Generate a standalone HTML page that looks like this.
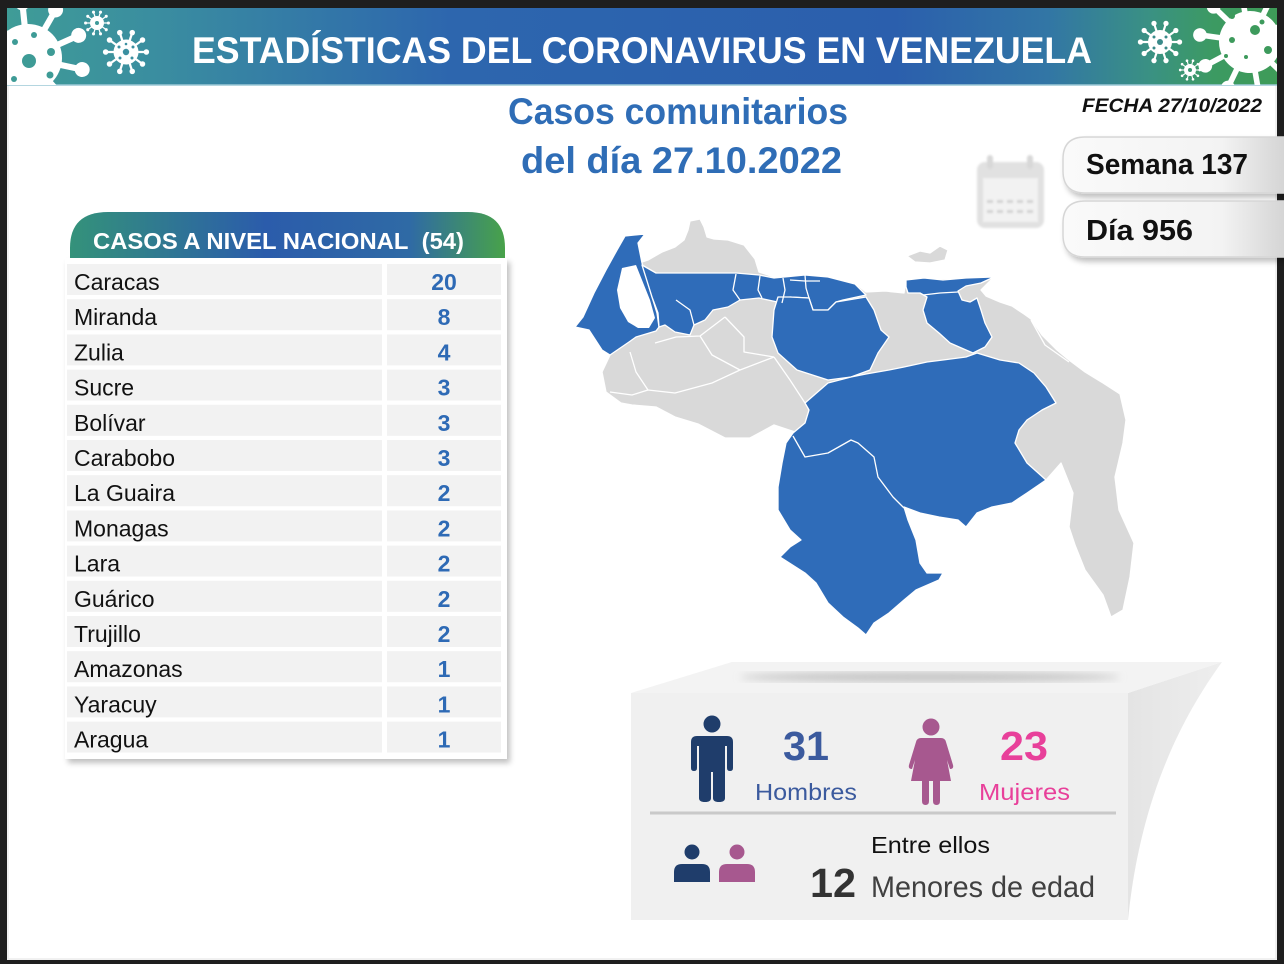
<!DOCTYPE html>
<html><head><meta charset="utf-8"><style>
html,body{margin:0;padding:0;background:#1e1e1e;}
svg{display:block;}
text{font-family:"Liberation Sans",sans-serif;}
</style></head><body>
<svg width="1284" height="964" viewBox="0 0 1284 964" xmlns="http://www.w3.org/2000/svg">
<defs>
<linearGradient id="ban" x1="0" y1="0" x2="1" y2="0">
<stop offset="0" stop-color="#3f9c97"/><stop offset="0.12" stop-color="#3a8da0"/><stop offset="0.35" stop-color="#2d66ae"/><stop offset="0.7" stop-color="#2b5fad"/><stop offset="0.82" stop-color="#3276a5"/><stop offset="0.9" stop-color="#3a9183"/><stop offset="0.95" stop-color="#3c9a62"/><stop offset="1" stop-color="#3e9b58"/>
</linearGradient>
<linearGradient id="hdr" x1="0" y1="0" x2="1" y2="0">
<stop offset="0" stop-color="#34927a"/><stop offset="0.45" stop-color="#2b5cab"/><stop offset="0.78" stop-color="#2f6aa5"/><stop offset="1" stop-color="#48a24a"/>
</linearGradient>
<linearGradient id="box" x1="0" y1="0" x2="1" y2="0">
<stop offset="0" stop-color="#fafafa"/><stop offset="0.7" stop-color="#f3f3f3"/><stop offset="1" stop-color="#d2d2d2"/>
</linearGradient>
<linearGradient id="fold" x1="0" y1="0" x2="1" y2="0">
<stop offset="0" stop-color="#e4e4e4"/><stop offset="1" stop-color="#eeeeee"/>
</linearGradient>
<filter id="sh" x="-10%" y="-10%" width="130%" height="130%"><feGaussianBlur in="SourceAlpha" stdDeviation="3"/><feOffset dx="3" dy="4"/><feComponentTransfer><feFuncA type="linear" slope="0.25"/></feComponentTransfer><feMerge><feMergeNode/><feMergeNode in="SourceGraphic"/></feMerge></filter>
<filter id="bl"><feGaussianBlur stdDeviation="1"/></filter>
<filter id="bl4"><feGaussianBlur stdDeviation="4"/></filter>
<clipPath id="bclip"><rect x="7" y="8" width="1270" height="77"/></clipPath>
<g id="vir">
<circle r="10" fill="#fff"/>
<g stroke="#fff" stroke-width="1.8">
<line x1="0" y1="0" x2="15" y2="0"/><line x1="0" y1="0" x2="12.1" y2="8.8"/><line x1="0" y1="0" x2="4.6" y2="14.3"/><line x1="0" y1="0" x2="-4.6" y2="14.3"/><line x1="0" y1="0" x2="-12.1" y2="8.8"/><line x1="0" y1="0" x2="-15" y2="0"/><line x1="0" y1="0" x2="-12.1" y2="-8.8"/><line x1="0" y1="0" x2="-4.6" y2="-14.3"/><line x1="0" y1="0" x2="4.6" y2="-14.3"/><line x1="0" y1="0" x2="12.1" y2="-8.8"/>
</g>
<g fill="#fff">
<circle cx="16.3" cy="0" r="2.2"/><circle cx="13.2" cy="9.6" r="2.2"/><circle cx="5" cy="15.5" r="2.2"/><circle cx="-5" cy="15.5" r="2.2"/><circle cx="-13.2" cy="9.6" r="2.2"/><circle cx="-16.3" cy="0" r="2.2"/><circle cx="-13.2" cy="-9.6" r="2.2"/><circle cx="-5" cy="-15.5" r="2.2"/><circle cx="5" cy="-15.5" r="2.2"/><circle cx="13.2" cy="-9.6" r="2.2"/>
</g>
</g>
</defs>

<!-- page -->
<rect x="7" y="8" width="1270" height="952" fill="#ffffff"/>
<rect x="8" y="9" width="1268" height="950" fill="none" stroke="#ececec" stroke-width="1.5"/>

<!-- banner -->
<rect x="7" y="8" width="1270" height="77" fill="url(#ban)"/>
<line x1="7" y1="85" x2="1277" y2="85" stroke="#9cc8d6" stroke-width="1.5"/>
<g clip-path="url(#bclip)">
<use href="#vir" transform="translate(28,58) scale(3.4) rotate(12)"/>
<g fill="#3e9b96"><circle cx="15" cy="42" r="3"/><circle cx="29" cy="61" r="7"/><circle cx="34" cy="35" r="3"/><circle cx="51" cy="52" r="4"/><circle cx="50" cy="75" r="3.5"/><circle cx="14" cy="79" r="3"/></g>
<use href="#vir" transform="translate(97,23) scale(0.7)"/>
<circle cx="97" cy="23" r="2" fill="#3e9a9a"/>
<use href="#vir" transform="translate(126,52) scale(1.25)"/>
<g fill="#3b8fa0"><circle cx="126" cy="52" r="3.2"/><circle cx="119" cy="47" r="1.5"/><circle cx="133" cy="47" r="1.5"/><circle cx="120" cy="58" r="1.5"/><circle cx="132" cy="58" r="1.5"/><circle cx="126" cy="44" r="1.3"/></g>
<use href="#vir" transform="translate(1160,42) scale(1.2)"/>
<g fill="#3a8a8a"><circle cx="1160" cy="42" r="3"/><circle cx="1154" cy="37" r="1.5"/><circle cx="1166" cy="37" r="1.5"/><circle cx="1154" cy="48" r="1.5"/><circle cx="1166" cy="48" r="1.5"/></g>
<use href="#vir" transform="translate(1250,42) scale(3.1) rotate(8)"/>
<g fill="#3d9a5c"><circle cx="1232" cy="16" r="3"/><circle cx="1255" cy="30" r="5"/><circle cx="1232" cy="40" r="3"/><circle cx="1268" cy="50" r="4"/><circle cx="1246" cy="57" r="2"/><circle cx="1262" cy="22" r="2.5"/><circle cx="1226" cy="56" r="2"/></g>
<use href="#vir" transform="translate(1190,70) scale(0.6)"/>
<circle cx="1190" cy="70" r="2" fill="#3c9670"/>
</g>
<text x="192" y="63" font-size="37" font-weight="bold" fill="#ffffff" textLength="900" lengthAdjust="spacingAndGlyphs">ESTADÍSTICAS DEL CORONAVIRUS EN VENEZUELA</text>

<!-- title -->
<text x="508" y="124" font-size="37" font-weight="bold" fill="#2f6db6" textLength="340" lengthAdjust="spacingAndGlyphs">Casos comunitarios</text>
<text x="521" y="173" font-size="37" font-weight="bold" fill="#2f6db6" textLength="321" lengthAdjust="spacingAndGlyphs">del día 27.10.2022</text>
<text x="1082" y="112" font-size="19" font-weight="bold" font-style="italic" fill="#111" textLength="180" lengthAdjust="spacingAndGlyphs">FECHA 27/10/2022</text>

<!-- calendar -->
<g filter="url(#bl)" fill="#e1e1e1">
<rect x="977" y="162" width="67" height="66" rx="8"/>
<rect x="983" y="178" width="55" height="44" fill="#f2f2f2"/>
<rect x="987" y="155" width="6" height="14" rx="3" fill="#d8d8d8"/>
<rect x="1027" y="155" width="6" height="14" rx="3" fill="#d8d8d8"/>
<g fill="#d2d2d2"><rect x="987" y="200" width="6" height="3"/><rect x="997" y="200" width="6" height="3"/><rect x="1007" y="200" width="6" height="3"/><rect x="1017" y="200" width="6" height="3"/><rect x="1027" y="200" width="6" height="3"/><rect x="987" y="210" width="6" height="3"/><rect x="997" y="210" width="6" height="3"/><rect x="1007" y="210" width="6" height="3"/><rect x="1017" y="210" width="6" height="3"/><rect x="1027" y="210" width="6" height="3"/></g>
</g>

<!-- semana / dia boxes -->
<g filter="url(#sh)">
<path d="M1085,137 H1290 V193 H1085 Q1063,193 1063,171 V159 Q1063,137 1085,137 Z" fill="url(#box)" stroke="#d6d6d6" stroke-width="1.5"/>
<path d="M1085,201 H1290 V257 H1085 Q1063,257 1063,235 V223 Q1063,201 1085,201 Z" fill="url(#box)" stroke="#d6d6d6" stroke-width="1.5"/>
</g>
<text x="1086" y="174" font-size="29" font-weight="bold" fill="#111" textLength="162" lengthAdjust="spacingAndGlyphs">Semana 137</text>
<text x="1086" y="240" font-size="29" font-weight="bold" fill="#111" textLength="107" lengthAdjust="spacingAndGlyphs">Día 956</text>

<!-- table -->
<rect x="65" y="258" width="442" height="501" fill="#ffffff" filter="url(#sh)"/>
<path d="M70,258 V248 Q70,212 108,212 H468 Q505,212 505,248 V258 Z" fill="url(#hdr)"/>
<text x="93" y="249" font-size="23" font-weight="bold" fill="#ffffff" textLength="371" lengthAdjust="spacingAndGlyphs">CASOS A NIVEL NACIONAL&#160; (54)</text>
<g fill="#f2f2f2">
<rect x="67" y="264" width="315" height="31"/><rect x="387" y="264" width="114" height="31"/>
<rect x="67" y="299.2" width="315" height="31"/><rect x="387" y="299.2" width="114" height="31"/>
<rect x="67" y="334.4" width="315" height="31"/><rect x="387" y="334.4" width="114" height="31"/>
<rect x="67" y="369.6" width="315" height="31"/><rect x="387" y="369.6" width="114" height="31"/>
<rect x="67" y="404.8" width="315" height="31"/><rect x="387" y="404.8" width="114" height="31"/>
<rect x="67" y="440" width="315" height="31"/><rect x="387" y="440" width="114" height="31"/>
<rect x="67" y="475.2" width="315" height="31"/><rect x="387" y="475.2" width="114" height="31"/>
<rect x="67" y="510.4" width="315" height="31"/><rect x="387" y="510.4" width="114" height="31"/>
<rect x="67" y="545.6" width="315" height="31"/><rect x="387" y="545.6" width="114" height="31"/>
<rect x="67" y="580.8" width="315" height="31"/><rect x="387" y="580.8" width="114" height="31"/>
<rect x="67" y="616" width="315" height="31"/><rect x="387" y="616" width="114" height="31"/>
<rect x="67" y="651.2" width="315" height="31"/><rect x="387" y="651.2" width="114" height="31"/>
<rect x="67" y="686.4" width="315" height="31"/><rect x="387" y="686.4" width="114" height="31"/>
<rect x="67" y="721.6" width="315" height="31"/><rect x="387" y="721.6" width="114" height="31"/>
</g>
<g font-size="23" fill="#111">
<text x="74" y="290">Caracas</text>
<text x="74" y="325.2">Miranda</text>
<text x="74" y="360.4">Zulia</text>
<text x="74" y="395.6">Sucre</text>
<text x="74" y="430.8">Bolívar</text>
<text x="74" y="466">Carabobo</text>
<text x="74" y="501.2">La Guaira</text>
<text x="74" y="536.4">Monagas</text>
<text x="74" y="571.6">Lara</text>
<text x="74" y="606.8">Guárico</text>
<text x="74" y="642">Trujillo</text>
<text x="74" y="677.2">Amazonas</text>
<text x="74" y="712.4">Yaracuy</text>
<text x="74" y="747.6">Aragua</text>
</g>
<g font-size="23" font-weight="bold" fill="#2e6ab5" text-anchor="middle">
<text x="444" y="290">20</text>
<text x="444" y="325.2">8</text>
<text x="444" y="360.4">4</text>
<text x="444" y="395.6">3</text>
<text x="444" y="430.8">3</text>
<text x="444" y="466">3</text>
<text x="444" y="501.2">2</text>
<text x="444" y="536.4">2</text>
<text x="444" y="571.6">2</text>
<text x="444" y="606.8">2</text>
<text x="444" y="642">2</text>
<text x="444" y="677.2">1</text>
<text x="444" y="712.4">1</text>
<text x="444" y="747.6">1</text>
</g>

<!-- map -->
<g stroke="#ffffff" stroke-width="1.3" stroke-linejoin="round">
<path fill="#d9d9d9" d="M625,236 L645,234 L638,243 L642,262 L648,260 L662,252 L675,247 L684,240 L688,230 L690,221 L700,219 L704,227 L707,237 L714,239 L728,240 L744,245 L755,259 L759,272 L774,277 L805,274 L828,276 L855,283 L866,292 L885,291 L904,293 L906,280 L994,277 L981,290 L986,296 L1000,302 L1012,306 L1024,314 L1031,319 L1042,335 L1057,350 L1069,360 L1085,372 L1103,383 L1120,394 L1126,420 L1123,443 L1115,477 L1119,510 L1134,543 L1130,577 L1123,610 L1111,617 L1103,595 L1085,570 L1075,545 L1069,527 L1073,493 L1061,463 L1046,480 L1000,495 L930,500 L880,470 L820,440 L795,432 L774,425 L750,438 L725,438 L698,424 L675,417 L656,407 L632,405 L621,403 L606,392 L602,372 L610,355 L602,350 L588,330 L575,327 L583,317 L594,293 L606,270 L617,250 Z"/>
<path fill="#d9d9d9" d="M907,256 L920,251 L930,253 L940,246 L948,250 L945,260 L930,263 L915,262 Z"/>
<!-- Zulia -->
<path fill="#2f6cb9" d="M625,236 L645,234 L638,243 L642,263 L652,297 L657,313 L659,327 L656,331 L636,337 L629,342 L610,355 L602,350 L589,330 L575,327 L583,317 L594,293 L606,270 L617,250 Z"/>
<!-- north band -->
<path fill="#2f6cb9" d="M642,265 L656,273 L679,273 L736,273 L759,275 L774,278 L805,275 L828,277 L855,284 L866,295 L843,300 L836,302 L828,310 L813,310 L809,298 L790,297 L782,303 L759,298 L740,300 L728,307 L713,310 L705,320 L694,325 L690,335 L675,332 L665,325 L659,327 L658,313 L652,297 Z"/>
<!-- Guarico -->
<path fill="#2f6cb9" d="M772,337 L774,310 L778,297 L790,297 L809,298 L813,310 L828,310 L836,302 L866,297 L874,310 L881,330 L889,337 L878,353 L870,370 L851,377 L828,380 L797,370 L778,353 Z"/>
<!-- Sucre / Monagas -->
<path fill="#2f6cb9" d="M906,280 L924,278 L943,280 L966,278 L994,277 L981,283 L966,286 L958,291 L962,300 L970,302 L977,298 L981,310 L985,323 L992,337 L985,347 L973,353 L966,350 L950,343 L939,333 L927,323 L923,310 L927,297 L920,293 L908,293 L906,287 Z"/>
<!-- Bolivar + Amazonas -->
<path fill="#2f6cb9" d="M805,403 L828,383 L851,377 L866,374 L889,370 L904,367 L927,362 L943,360 L966,357 L977,353 L1000,360 L1019,363 L1034,373 L1046,387 L1056,403 L1042,410 L1027,420 L1019,430 L1015,443 L1027,463 L1046,480 L1027,493 L1012,503 L992,507 L977,513 L966,527 L958,520 L939,517 L920,513 L904,507 L908,520 L916,540 L920,563 L927,573 L943,573 L939,580 L916,590 L904,600 L889,613 L874,623 L866,635 L858,628 L843,617 L828,603 L816,583 L805,573 L780,557 L790,547 L801,540 L790,530 L778,510 L778,487 L782,463 L786,443 L793,433 L805,423 L809,410 Z"/>
</g>
<!-- Lake Maracaibo -->
<path fill="#ffffff" d="M622,268 L636,265 L642,280 L650,300 L655,318 L649,328 L638,328 L628,322 L620,308 L617,290 Z"/>
<g fill="none" stroke="#ffffff" stroke-width="1.3" stroke-linejoin="round">
<polyline points="793,436 805,457 828,453 851,440 858,443 874,457 878,477 893,497 904,508"/>
<polyline points="630,352 636,372 648,390 675,393 712,383 740,370 774,357"/>
<polyline points="655,343 676,337 700,336 725,317"/>
<polyline points="725,317 744,337 744,352 762,355 774,357"/>
<polyline points="700,336 712,355 740,370"/>
<polyline points="610,392 632,395 648,390"/>
<polyline points="774,357 790,380 805,403"/>
<polyline points="676,300 690,310 694,325"/>
<polyline points="736,274 733,290 740,300"/>
<polyline points="760,276 758,290 762,298"/>
<polyline points="783,278 785,290 782,303"/>
<polyline points="805,275 806,288 809,298"/>
<polyline points="790,280 805,281 820,281"/>
<polyline points="923,295 940,293 958,292"/>
<polyline points="1031,320 1045,345 1069,362"/>
</g>

<!-- bottom panel -->
<path d="M1128,693 L1222,662 C1180,720 1140,800 1128,920 Z" fill="url(#fold)"/>
<path d="M631,693 L732,662 L1222,662 L1128,693 Z" fill="#f3f3f3"/>
<ellipse cx="930" cy="677" rx="190" ry="5" fill="#c4c4c4" filter="url(#bl4)"/>
<rect x="631" y="693" width="497" height="227" fill="#f0f0f0"/>
<line x1="650" y1="813" x2="1116" y2="813" stroke="#c9c9c9" stroke-width="3"/>

<!-- man -->
<circle cx="712" cy="724" r="8.5" fill="#1f3d6b"/>
<path fill="#1f3d6b" d="M697,736 H727 Q733,736 733,742 V768 Q733,771 730,771 Q727,771 727,768 V746 H725 V798 Q725,802 719,802 Q713,802 713,798 V772 H711 V798 Q711,802 705,802 Q699,802 699,798 V746 H697 V768 Q697,771 694,771 Q691,771 691,768 V742 Q691,736 697,736 Z"/>
<!-- woman -->
<circle cx="931" cy="727" r="8.5" fill="#a7588f"/>
<path fill="#a7588f" d="M921,738 H941 Q945,738 946,742 L953,765 Q954,769 950,769 L947,760 L951,781 H940 V801 Q940,805 936.5,805 Q933,805 933,801 V781 H929 V801 Q929,805 925.5,805 Q922,805 922,801 V781 H911 L915,760 L912,769 Q908,769 909,765 L916,742 Q917,738 921,738 Z"/>
<!-- small persons -->
<circle cx="692" cy="852" r="7.5" fill="#1f3d6b"/>
<path fill="#1f3d6b" d="M674,882 V872 Q674,864 682,864 H702 Q710,864 710,872 V882 Z"/>
<circle cx="737" cy="852" r="7.5" fill="#a7588f"/>
<path fill="#a7588f" d="M719,882 V872 Q719,864 727,864 H747 Q755,864 755,872 V882 Z"/>

<text x="783" y="760" font-size="41" font-weight="bold" fill="#3b5a9e" textLength="46" lengthAdjust="spacingAndGlyphs">31</text>
<text x="755" y="800" font-size="23" fill="#3b5a9e" textLength="102" lengthAdjust="spacingAndGlyphs">Hombres</text>
<text x="1000" y="760" font-size="41" font-weight="bold" fill="#e8409a" textLength="48" lengthAdjust="spacingAndGlyphs">23</text>
<text x="979" y="800" font-size="23" fill="#e8409a" textLength="91" lengthAdjust="spacingAndGlyphs">Mujeres</text>
<text x="871" y="853" font-size="23" fill="#111" textLength="119" lengthAdjust="spacingAndGlyphs">Entre ellos</text>
<text x="810" y="897" font-size="41" font-weight="bold" fill="#333" textLength="46" lengthAdjust="spacingAndGlyphs">12</text>
<text x="871" y="897" font-size="30" fill="#404040" textLength="224" lengthAdjust="spacingAndGlyphs">Menores de edad</text>
</svg>
</body></html>
